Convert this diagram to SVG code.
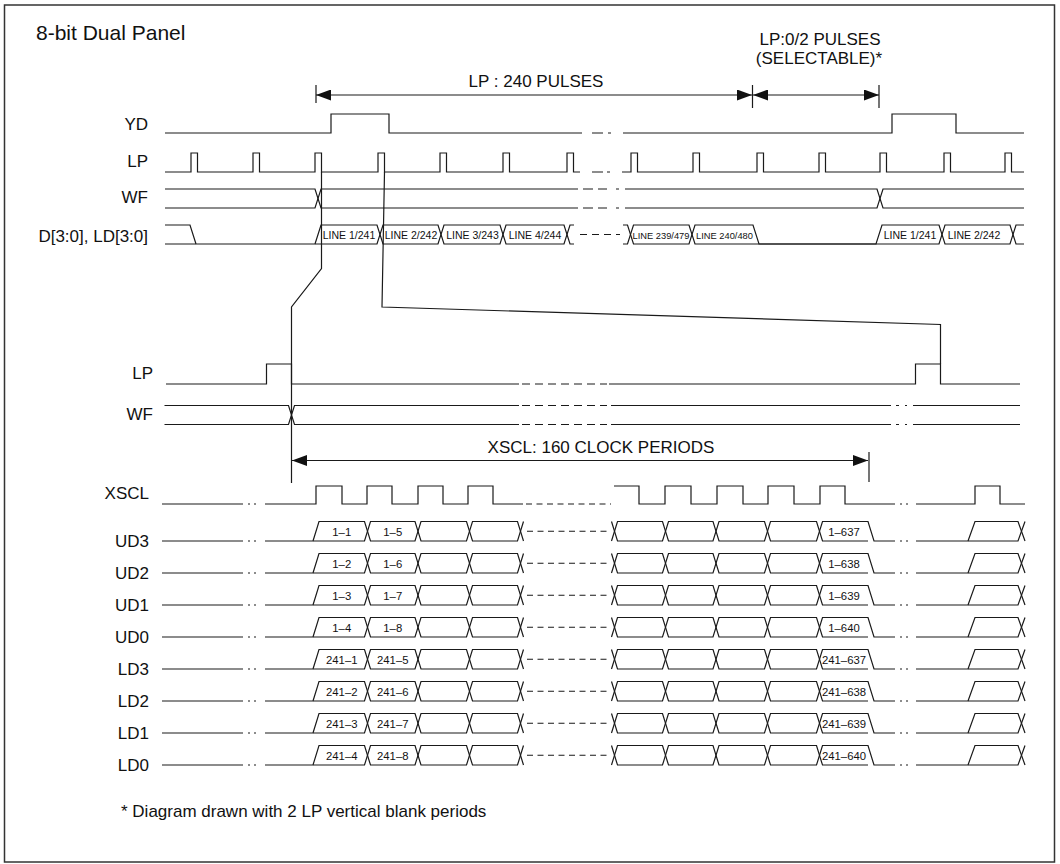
<svg xmlns="http://www.w3.org/2000/svg" xmlns:xlink="http://www.w3.org/1999/xlink" width="1060" height="864" viewBox="0 0 1060 864">
<style>
.w{fill:none;stroke:#1a1a1a;stroke-width:1.2}
.dash{fill:none;stroke:#1a1a1a;stroke-width:1.2;stroke-dasharray:6 4.5}
.t{font-family:"Liberation Sans",Arial,Helvetica,sans-serif;fill:#111}
.lbl{font-size:17px;text-anchor:end}
.cell{font-size:11.3px;text-anchor:middle}
.dc{font-size:10.5px;text-anchor:middle}
.ds{font-size:9.3px;text-anchor:middle}
.ann{font-size:17px;text-anchor:middle}
</style>
<defs>
<marker id="ah" viewBox="0 0 15 11" refX="15" refY="5.5" markerWidth="15" markerHeight="11" markerUnits="userSpaceOnUse" orient="auto-start-reverse">
<path d="M0,0 L15,5.5 L0,11 z" fill="#111"/>
</marker>
<g id="bus">
<path class="w" d="M162,541 H243 M248,541 H250 M254,541 H256"/>
<path class="w" d="M265,541 H364.5 L370.5,521.5 H415 L421,541 H466.5 L472.5,521.5 H517.5 L523.5,541"/>
<path class="w" d="M313,541 L319,521.5 H364.5 L370.5,541 H415 L421,521.5 H466.5 L472.5,541 H517.5 L523.5,521.5"/>
<path class="dash" d="M527,531.25 H609"/>
<path class="w" d="M611.5,521.5 L617.5,541 H662.5 L668.5,521.5 H713 L719,541 H764.5 L770.5,521.5 H816.5 L822.5,541 H868"/>
<path class="w" d="M611.5,541 L617.5,521.5 H662.5 L668.5,541 H713 L719,521.5 H764.5 L770.5,541 H816.5 L822.5,521.5 H868 L874,541 H895"/>
<path class="w" d="M900,541 H902 M906,541 H908"/>
<path class="w" d="M916,541 H1018 L1025,521.5"/>
<path class="w" d="M968,541 L975,521.5 H1018 L1025,541"/>
</g>
</defs>
<rect x="0" y="0" width="1060" height="864" fill="#fff"/>
<rect x="4.5" y="5" width="1050" height="857" fill="none" stroke="#333" stroke-width="1.5"/>

<g id="title"><text class="t" x="36" y="40" font-size="21">8-bit Dual Panel</text></g>

<g id="annotations">
<text class="t ann" x="536" y="87">LP : 240 PULSES</text>
<text class="t ann" x="820" y="45" font-size="16">LP:0/2 PULSES</text>
<text class="t ann" x="819" y="63.5" font-size="16">(SELECTABLE)*</text>
<path class="w" d="M316,85 V103 M752.5,85 V108 M879,85 V108"/>
<path class="w" d="M316,95 H752" marker-start="url(#ah)" marker-end="url(#ah)"/>
<path class="w" d="M753,95 H879" marker-start="url(#ah)" marker-end="url(#ah)"/>
<text class="t ann" x="601" y="453">XSCL: 160 CLOCK PERIODS</text>
<path class="w" d="M292,460.5 H868" marker-start="url(#ah)" marker-end="url(#ah)"/>
<path class="w" d="M869,452 V482"/>
<text class="t" x="121" y="817" font-size="17">* Diagram drawn with 2 LP vertical blank periods</text>
</g>

<g id="sig-YD">
<text class="t lbl" x="148" y="130">YD</text>
<path class="w" d="M165,133 H331 V114 H389 V133 H582 M592,133 H603 M608,133 H611 M623,133 H892 V114 H956 V133 H1024"/>
</g>

<g id="sig-LP">
<text class="t lbl" x="148" y="167">LP</text>
<path class="w" d="M165,172 H191 V153 H197.5 V172 H253 V153 H259.5 V172 H315 V153 H321.5 V172 H378 V153 H384.5 V172 H440 V153 H446.5 V172 H503 V153 H509.5 V172 H567 V153 H573.5 V172 H580 M592,172 H603 M607,172 H610 M622,172 H631 V153 H637.5 V172 H693 V153 H699.5 V172 H757 V153 H763.5 V172 H819 V153 H825.5 V172 H880 V153 H886.5 V172 H944 V153 H950.5 V172 H1005 V153 H1011.5 V172 H1024"/>
</g>

<g id="sig-WF">
<text class="t lbl" x="148" y="203">WF</text>
<path class="w" d="M165,189 H315 L321,208 H578 M583,189 H593 M598,189 H607 M616,189 H619 M625,189 H877 L883,208 H1024"/>
<path class="w" d="M165,208 H315 L321,189 H578 M583,208 H593 M598,208 H607 M616,208 H619 M625,208 H877 L883,189 H1024"/>
</g>

<g id="sig-D">
<text class="t lbl" x="148" y="242">D[3:0], LD[3:0]</text>
<path class="w" d="M165,225 H190 L196,244"/>
<path class="w" d="M165,244 H377 L383,225 H438 L444,244 H500 L506,225 H564 L570,244 H574"/>
<path class="w" d="M315,244 L321,225 H377 L383,244 H438 L444,225 H500 L506,244 H564 L570,225 H574"/>
<path class="w" d="M580,234.5 H620" stroke-dasharray="7 5"/>
<path class="w" d="M623,225 H627.5 L633.5,244 H689 L695,225 H753 L759,244 H939 L945,225 H1010 L1016,244 H1024"/>
<path class="w" d="M623,244 H627.5 L633.5,225 H689 L695,244 H876 L882,225 H939 L945,244 H1010 L1016,225 H1024"/>
<text class="t dc" x="349" y="238.5">LINE 1/241</text>
<text class="t dc" x="411" y="238.5">LINE 2/242</text>
<text class="t dc" x="472.5" y="238.5">LINE 3/243</text>
<text class="t dc" x="535" y="238.5">LINE 4/244</text>
<text class="t ds" x="661" y="238.5">LINE 239/479</text>
<text class="t ds" x="724.5" y="238.5">LINE 240/480</text>
<text class="t dc" x="910" y="238.5">LINE 1/241</text>
<text class="t dc" x="974" y="238.5">LINE 2/242</text>
</g>

<g id="sig-LP2">
<text class="t lbl" x="153" y="379">LP</text>
<path class="w" d="M166,384 H266.5 V364 H291.5 V384 H519 M609,384 H915.5 V364 H940.5 V384 H1020"/>
<path class="w" d="M522,384 H607" stroke-dasharray="8 5"/>
</g>

<g id="sig-WF2">
<text class="t lbl" x="153" y="420">WF</text>
<path class="w" d="M164.5,405.5 H288.5 L294.5,424.5 H519 M611,405.5 H891 M896,405.5 H899 M905,405.5 H907 M913,405.5 H1020"/>
<path class="w" d="M164.5,424.5 H288.5 L294.5,405.5 H519 M611,424.5 H891 M896,424.5 H899 M905,424.5 H907 M913,424.5 H1020"/>
<path class="w" d="M522,405.5 H607 M522,424.5 H607" stroke-dasharray="8 5"/>
</g>

<g id="sig-XSCL">
<text class="t lbl" x="149" y="499">XSCL</text>
<path class="w" d="M162,504 H243 M248,504 H250 M254,504 H256 M265,504 H316 V486 H342 V504 H367 V486 H392 V504 H418 V486 H443 V504 H468 V486 H493 V504 H523"/>
<path class="w" d="M526,504 H611" stroke-dasharray="6 4.5"/>
<path class="w" d="M614,486 H639 V504 H665 V486 H691 V504 H717 V486 H743 V504 H768 V486 H794 V504 H820 V486 H845 V504 H895 M900,504 H902 M906,504 H908 M916,504 H975 V486 H1000 V504 H1025"/>
</g>

<g id="sig-UD3"><text class="t lbl" x="149" y="546.5">UD3</text><use xlink:href="#bus" href="#bus"/>
<text class="t cell" x="341.75" y="535.5">1–1</text><text class="t cell" x="392.75" y="535.5">1–5</text><text class="t cell" x="844" y="535.5">1–637</text></g>
<g id="sig-UD2"><text class="t lbl" x="149" y="578.5">UD2</text><use xlink:href="#bus" href="#bus" y="32"/>
<text class="t cell" x="341.75" y="567.5">1–2</text><text class="t cell" x="392.75" y="567.5">1–6</text><text class="t cell" x="844" y="567.5">1–638</text></g>
<g id="sig-UD1"><text class="t lbl" x="149" y="610.5">UD1</text><use xlink:href="#bus" href="#bus" y="64"/>
<text class="t cell" x="341.75" y="599.5">1–3</text><text class="t cell" x="392.75" y="599.5">1–7</text><text class="t cell" x="844" y="599.5">1–639</text></g>
<g id="sig-UD0"><text class="t lbl" x="149" y="642.5">UD0</text><use xlink:href="#bus" href="#bus" y="96"/>
<text class="t cell" x="341.75" y="631.5">1–4</text><text class="t cell" x="392.75" y="631.5">1–8</text><text class="t cell" x="844" y="631.5">1–640</text></g>
<g id="sig-LD3"><text class="t lbl" x="149" y="674.5">LD3</text><use xlink:href="#bus" href="#bus" y="128"/>
<text class="t cell" x="341.75" y="663.5">241–1</text><text class="t cell" x="392.75" y="663.5">241–5</text><text class="t cell" x="844" y="663.5">241–637</text></g>
<g id="sig-LD2"><text class="t lbl" x="149" y="706.5">LD2</text><use xlink:href="#bus" href="#bus" y="160"/>
<text class="t cell" x="341.75" y="695.5">241–2</text><text class="t cell" x="392.75" y="695.5">241–6</text><text class="t cell" x="844" y="695.5">241–638</text></g>
<g id="sig-LD1"><text class="t lbl" x="149" y="738.5">LD1</text><use xlink:href="#bus" href="#bus" y="192"/>
<text class="t cell" x="341.75" y="727.5">241–3</text><text class="t cell" x="392.75" y="727.5">241–7</text><text class="t cell" x="844" y="727.5">241–639</text></g>
<g id="sig-LD0"><text class="t lbl" x="149" y="770.5">LD0</text><use xlink:href="#bus" href="#bus" y="224"/>
<text class="t cell" x="341.75" y="759.5">241–4</text><text class="t cell" x="392.75" y="759.5">241–8</text><text class="t cell" x="844" y="759.5">241–640</text></g>

<g id="connectors">
<path class="w" d="M321.5,172 V268.5 L291.5,307 V483"/>
<path class="w" d="M384.5,172 L382,307 L940.5,324.5 V364"/>
</g>
</svg>
